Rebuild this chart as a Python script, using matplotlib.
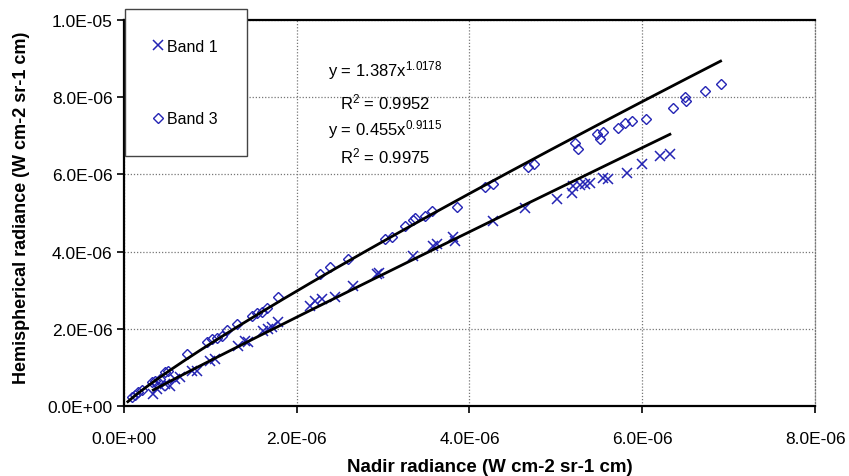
import numpy as np
import matplotlib
matplotlib.use("Agg")
import matplotlib.pyplot as plt
from matplotlib.ticker import FuncFormatter, MultipleLocator

# ---- data (values in units of 1e-6 W cm-2 sr-1 cm) ----
band1_x = [0.344, 0.384, 0.422, 0.479, 0.538, 0.596, 0.653, 0.788, 0.846, 1.000,
           1.058, 1.327, 1.405, 1.442, 1.616, 1.674, 1.713, 1.789, 2.156, 2.214,
           2.291, 2.444, 2.656, 2.927, 2.953, 3.350, 3.581, 3.623, 3.812, 3.832,
           4.274, 4.641, 5.014, 5.181, 5.192, 5.276, 5.334, 5.392, 5.546, 5.603,
           5.816, 5.990, 6.201, 6.317]
band1_y = [0.311, 0.440, 0.525, 0.569, 0.525, 0.698, 0.743, 0.914, 0.914, 1.173,
           1.216, 1.560, 1.689, 1.649, 1.948, 1.992, 2.036, 2.165, 2.595, 2.724,
           2.768, 2.812, 3.113, 3.415, 3.441, 3.889, 4.148, 4.191, 4.365, 4.277,
           4.794, 5.141, 5.374, 5.529, 5.699, 5.717, 5.743, 5.769, 5.916, 5.873,
           6.046, 6.261, 6.475, 6.520]

band3_x = [0.095, 0.133, 0.168, 0.211, 0.326, 0.364, 0.422, 0.479, 0.514, 0.731,
           0.961, 1.020, 1.078, 1.135, 1.193, 1.308, 1.482, 1.540, 1.598, 1.655,
           1.789, 2.271, 2.387, 2.598, 3.023, 3.100, 3.253, 3.350, 3.369, 3.485,
           3.563, 3.851, 4.178, 4.274, 4.679, 4.745, 5.219, 5.256, 5.476, 5.508,
           5.539, 5.719, 5.796, 5.874, 6.040, 6.355, 6.490, 6.502, 6.722, 6.903]
band3_y = [0.225, 0.285, 0.363, 0.422, 0.614, 0.655, 0.698, 0.888, 0.914, 1.346,
           1.649, 1.733, 1.759, 1.803, 1.966, 2.122, 2.337, 2.399, 2.424, 2.528,
           2.812, 3.415, 3.589, 3.803, 4.321, 4.365, 4.664, 4.820, 4.882, 4.923,
           5.053, 5.166, 5.684, 5.743, 6.201, 6.261, 6.822, 6.667, 7.037, 6.907,
           7.097, 7.192, 7.322, 7.381, 7.443, 7.709, 8.012, 7.899, 8.157, 8.349]

# drawn power-law trend lines y = a * x**b (x, y in 1e-6 units)
trend_band1 = (1.171, 0.973)
trend_band3 = (1.607, 0.888)
trend_band3_start = 0.05

scale = 1e-6
series_labels = ["Band 1", "Band 3"]
eq_band3 = ("y = 1.387x", "1.0178", "0.9952")
eq_band1 = ("y = 0.455x", "0.9115", "0.9975")

x_ticks_max = 8e-6
y_ticks_max = 1e-5

# ---- style ----
plt.rcParams["font.family"] = ["Liberation Sans", "DejaVu Sans"]
plt.rcParams["mathtext.fontset"] = "custom"
plt.rcParams["mathtext.rm"] = "Liberation Sans"
plt.rcParams["mathtext.it"] = "Liberation Sans"
plt.rcParams["mathtext.default"] = "regular"

blue = "#2424b4"

fig = plt.figure(figsize=(8.49, 4.77), dpi=100)
ax = fig.add_axes([0.1455, 0.1468, 0.8150, 0.8092])

b1x = np.array(band1_x) * scale
b1y = np.array(band1_y) * scale
b3x = np.array(band3_x) * scale
b3y = np.array(band3_y) * scale

ax.plot(b1x, b1y, linestyle="none", marker="x", ms=7, mew=1.1, color=blue,
        label=series_labels[0], zorder=3)
ax.plot(b3x, b3y, linestyle="none", marker="D", ms=4.8, mew=1.0, mfc="none",
        mec=blue, label=series_labels[1], zorder=3)

for (a, b), x0, x1 in ((trend_band1, min(band1_x), max(band1_x)),
                       (trend_band3, trend_band3_start, max(band3_x))):
    xx = np.linspace(x0, x1, 200)
    ax.plot(xx * scale, a * xx ** b * scale, color="black", lw=2.0, zorder=4)

ax.set_xlim(0, x_ticks_max)
ax.set_ylim(0, y_ticks_max)
ax.xaxis.set_major_locator(MultipleLocator(2e-6))
ax.yaxis.set_major_locator(MultipleLocator(2e-6))
fmt = FuncFormatter(lambda v, p: f"{v:.1E}")
ax.xaxis.set_major_formatter(fmt)
ax.yaxis.set_major_formatter(fmt)
ax.tick_params(labelsize=12.5, direction="out", length=5, width=1.2, colors="black")
ax.tick_params(axis="x", pad=13)
ax.tick_params(axis="y", pad=3)
ax.grid(True, linestyle=(0, (1, 1.5)), color="#777777", lw=0.9)
ax.set_axisbelow(True)

for side in ("left", "bottom", "top"):
    ax.spines[side].set_linewidth(1.6)
    ax.spines[side].set_color("black")
ax.spines["right"].set_linestyle((0, (1, 1.5)))
ax.spines["right"].set_color("#777777")
ax.spines["right"].set_linewidth(0.9)

ax.set_xlabel("Nadir radiance (W cm-2 sr-1 cm)", fontsize=13.5, fontweight="bold")
ax.xaxis.set_label_coords(0.530, -0.135)
ax.set_ylabel("Hemispherical radiance (W cm-2 sr-1 cm)", fontsize=13,
              fontweight="bold")
ax.yaxis.set_label_coords(-0.135, 0.517)

# equations
def eq(xc, y1, y2, parts):
    ax.text(xc, y1, f"{parts[0]}$^{{{parts[1]}}}$", ha="center", va="center",
            fontsize=12, transform=ax.transAxes)
    ax.text(xc, y2, f"R$^{{2}}$ = {parts[2]}", ha="center",
            va="center", fontsize=12, transform=ax.transAxes)

eq(0.378, 0.871, 0.788, eq_band3)
eq(0.378, 0.720, 0.648, eq_band1)

leg = ax.legend(loc="upper left", bbox_to_anchor=(0.002, 1.028),
                bbox_transform=ax.transAxes, borderaxespad=0, fontsize=11.5,
                frameon=True, fancybox=False, edgecolor="#444444",
                framealpha=1.0, borderpad=1.85, labelspacing=3.6,
                handlelength=0.4, handletextpad=0.4)
leg.get_frame().set_linewidth(1.0)
leg.set_zorder(10)

fig.savefig("out.png", dpi=100)
